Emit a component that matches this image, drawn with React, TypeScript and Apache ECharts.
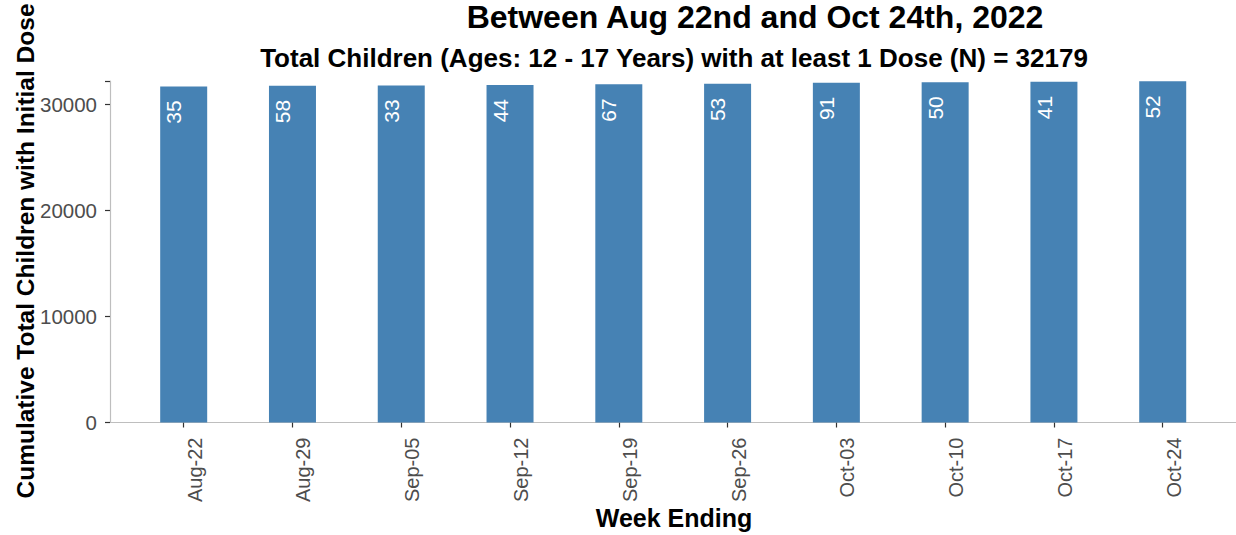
import React, { useEffect, useRef } from "react";
import * as echarts from "echarts";

const weeks = ["Aug-22", "Aug-29", "Sep-05", "Sep-12", "Sep-19", "Sep-26", "Oct-03", "Oct-10", "Oct-17", "Oct-24"];
const cumulative = [31690, 31748, 31781, 31825, 31892, 31945, 32036, 32086, 32127, 32179];
const weeklyNew = [35, 58, 33, 44, 67, 53, 91, 50, 41, 52];
const yTicks = [0, 10000, 20000, 30000];

const titleText = "Between Aug 22nd and Oct 24th, 2022";
const subtitleText = "Total Children (Ages: 12 - 17 Years) with at least 1 Dose (N) = 32179";
const xName = "Week Ending";
const yName = "Cumulative Total Children with Initial Dose";

const FONT = '"Liberation Sans", Arial, sans-serif';

export default function App() {
  const ref = useRef<HTMLDivElement>(null);
  useEffect(() => {
    if (!ref.current) return;
    const chart = echarts.init(ref.current, null, { renderer: "svg" });
    const yMax = 32200;
    const top = 81;
    const bottom = 112.5;
    const labelShift = 11;
    chart.setOption({
      animation: false,
      backgroundColor: "#ffffff",
      grid: [
        { left: 110, right: 0, top, bottom, containLabel: false },
        { left: 129.3, right: 18.9, top, bottom, containLabel: false },
        { left: 129.3 + labelShift, right: 18.9 - labelShift, top, bottom, containLabel: false },
      ],
      xAxis: [
        {
          gridIndex: 0,
          type: "value",
          min: 0,
          max: 1,
          axisLine: { show: true, lineStyle: { color: "#bebebe", width: 1.2 } },
          axisTick: { show: false },
          axisLabel: { show: false },
          splitLine: { show: false },
        },
        {
          gridIndex: 1,
          type: "category",
          data: weeks,
          boundaryGap: true,
          axisLine: { show: false },
          axisTick: { show: true, alignWithLabel: true, length: 5, lineStyle: { color: "#333333", width: 1.2 } },
          axisLabel: { show: false },
          splitLine: { show: false },
        },
        {
          gridIndex: 2,
          type: "category",
          data: weeks,
          boundaryGap: true,
          axisLine: { show: false },
          axisTick: { show: false },
          axisLabel: {
            rotate: 90,
            fontSize: 20,
            fontFamily: FONT,
            color: "#4d4d4d",
            margin: 15,
          },
          splitLine: { show: false },
        },
      ],
      yAxis: [
        {
          gridIndex: 0,
          type: "value",
          min: 0,
          max: yMax,
          interval: 10000,
          axisLine: { show: true, lineStyle: { color: "#bebebe", width: 1.2 } },
          axisTick: { show: true, length: 5, lineStyle: { color: "#333333", width: 1.2 } },
          axisLabel: {
            fontSize: 20.5,
            fontFamily: FONT,
            color: "#4d4d4d",
            margin: 13,
            formatter: (v: number) => (yTicks.includes(v) ? String(v) : ""),
          },
          splitLine: { show: false },
        },
        {
          gridIndex: 1,
          type: "value",
          min: 0,
          max: yMax,
          show: false,
          splitLine: { show: false },
        },
        {
          gridIndex: 2,
          type: "value",
          min: 0,
          max: yMax,
          show: false,
          splitLine: { show: false },
        },
      ],
      series: [
        {
          type: "bar",
          xAxisIndex: 1,
          yAxisIndex: 1,
          data: cumulative,
          barWidth: 47,
          itemStyle: { color: "#4682B4" },
          label: {
            show: true,
            position: ["29%", 14],
            rotate: 90,
            align: "right",
            verticalAlign: "middle",
            color: "#ffffff",
            fontSize: 21,
            fontFamily: FONT,
            formatter: (p: any) => String(weeklyNew[p.dataIndex]),
          },
        },
      ],
      graphic: [
        {
          type: "text",
          x: 755,
          y: 17,
          style: {
            text: titleText,
            font: `bold 32px ${FONT}`,
            textAlign: "center",
            textVerticalAlign: "middle",
            fill: "#000000",
          },
        },
        {
          type: "text",
          x: 674,
          y: 58,
          style: {
            text: subtitleText,
            font: `bold 26px ${FONT}`,
            textAlign: "center",
            textVerticalAlign: "middle",
            fill: "#000000",
          },
        },
        {
          type: "text",
          x: 674,
          y: 518,
          style: {
            text: xName,
            font: `bold 25px ${FONT}`,
            textAlign: "center",
            textVerticalAlign: "middle",
            fill: "#000000",
          },
        },
        {
          type: "text",
          x: 25,
          y: 251,
          rotation: Math.PI / 2,
          style: {
            text: yName,
            font: `bold 24.5px ${FONT}`,
            textAlign: "center",
            textVerticalAlign: "middle",
            fill: "#000000",
          },
        },
      ],
    });
    return () => chart.dispose();
  }, []);
  return (
    <div
      ref={ref}
      style={{ position: "absolute", left: 0, top: 0, width: 1236, height: 535 }}
    />
  );
}
